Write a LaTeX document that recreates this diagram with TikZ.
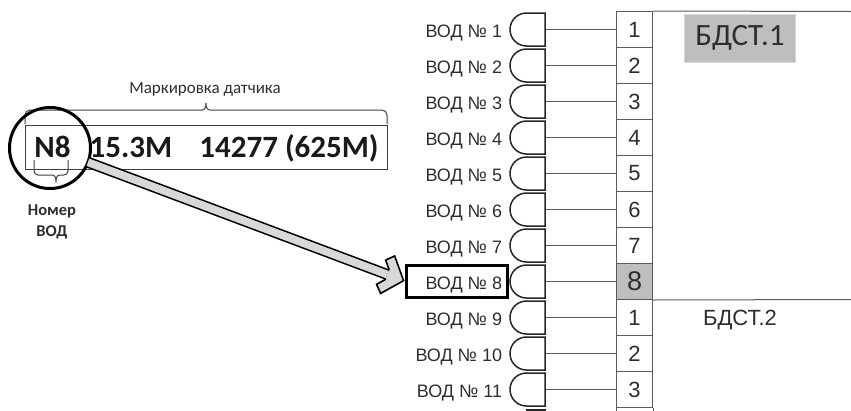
\documentclass[tikz,border=0pt]{standalone}
\usepackage{fontspec}
\setmainfont{Liberation Sans}
\newfontfamily\calfont{Carlito}
\usepackage{xcolor}
\usetikzlibrary{arrows.meta,positioning,shapes.misc}
\newcommand{\fs}[1]{\fontsize{#1}{#1}\selectfont}
\definecolor{cellgray}{HTML}{BEBEBE}
\definecolor{wiregray}{HTML}{5A5A5A}
\definecolor{txt}{HTML}{2E2E2E}
\definecolor{shaftgray}{HTML}{D8D8D8}
% open chevron head of the pointer
\pgfdeclarearrow{name=Chev,
  setup code={\pgfarrowssettipend{0pt}\pgfarrowssetlineend{-18.4pt}\pgfarrowssetbackend{-26pt}\pgfarrowssetvisualbackend{-18pt}\pgfarrowshullpoint{0pt}{0pt}},
  drawing code={\pgfsetlinewidth{1.6pt}\pgfsetmiterjoin\pgfsetfillcolor{shaftgray}
    \pgfpathmoveto{\pgfqpoint{-18pt}{4.7pt}}\pgfpathlineto{\pgfqpoint{-25pt}{13pt}}
    \pgfpathlineto{\pgfqpoint{-18pt}{20pt}}\pgfpathlineto{\pgfqpoint{-1pt}{0pt}}
    \pgfpathlineto{\pgfqpoint{-18pt}{-20pt}}\pgfpathlineto{\pgfqpoint{-25pt}{-13pt}}
    \pgfpathlineto{\pgfqpoint{-18pt}{-4.7pt}}\pgfusepathqfillstroke}}
\begin{document}
\begin{tikzpicture}[x=1pt,y=-1pt,
  cell/.style={draw=wiregray,line width=1pt,minimum width=36pt,minimum height=36pt,inner sep=0pt,text=txt,font=\fs{22}},
  cellsel/.style={cell,fill=cellgray,font=\fs{27}},
  plug/.style={draw=black!85,line width=1.5pt,rounded rectangle,rounded rectangle right arc=none,minimum width=35pt,minimum height=33pt,inner sep=0pt},
  vod/.style={inner sep=0pt,text=txt,font=\fs{18},left=7pt of #1,yshift=-3.5pt},
  wire/.style={draw=wiregray,line width=.9pt},
  tagtxt/.style={inner sep=0pt,anchor=base,font=\calfont\bfseries\fs{31},text=black!90},
  ptr/.style={black,line width=1.6pt,double=shaftgray,double distance=7.8pt,shorten <=-1.5pt,-{Chev}}]
\useasboundingbox (0,0) rectangle (851,410);
% --- blocks on the right ---
\node[fill=cellgray,draw=cellgray!60,minimum width=111pt,minimum height=48pt,inner sep=0pt,text=txt,font=\calfont\fs{31}] (bd1) at (740,38) {\raisebox{-2pt}{БДСТ.1}\hspace{13pt}};
\node[inner sep=0pt,text=txt,font=\fs{22}] (bd2) at (740,320) {БДСТ.2};
\coordinate (e1) at (851,11.5);
\coordinate (e2) at (851,299.5);
% --- sockets, wires, plugs and labels ---
\foreach \i/\n/\sty in {1/1/cell,2/2/cell,3/3/cell,4/4/cell,5/5/cell,6/6/cell,7/7/cell,8/8/cellsel,9/1/cell,10/2/cell,11/3/cell}{
  \node[\sty] (c\i) at (634.5,{29.5+36*(\i-1)}) {\n};
  \node[plug] (p\i) at (527.5,{29.5+36*(\i-1)}) {};
  \node[vod=p\i] (v\i) {ВОД № \i};
  \draw[wire] (p\i.east) -- (c\i.west);
}
\draw[wiregray,line width=1pt] (c1.north east) -- (e1);
\draw[wiregray,line width=1pt] (c8.south east) -- (e2);
\draw[wiregray,line width=1pt] (c11.south west) -- ++(0,3);
\draw[wiregray,line width=1pt] (c11.south east) -- ++(0,3);
\draw[black!85,line width=1.5pt] (p11.south east) ++(0,3) -- ++(-20,0);
\node[draw=black,line width=3pt,minimum width=101pt,minimum height=32pt,inner sep=0pt] (fr) at (456.5,281) {};
% --- sensor marking on the left ---
\node[draw=black!75,line width=1pt,minimum width=362pt,minimum height=44pt,inner sep=0pt] (tag) at (206,147) {};
\node[tagtxt] (n8) at (52.5,157) {N8};
\node[tagtxt] (len) at (131,157) {15.3M};
\node[tagtxt] (ser) at (289,157) {14277 (625M)};
\node[inner sep=0pt,text=txt,font=\calfont\fs{17}] (mk) at (205,89) {Маркировка датчика};
\node[inner sep=0pt,align=center,text=txt,font=\calfont\bfseries\fs{16.5}] (num) at (52,222) {Номер\\[4pt]ВОД};
\draw[black!75,line width=1pt] (25,124) -- (25,115) arc (180:90:5pt) -- (202,110) .. controls (205,110) and (206,107) .. (206,103) .. controls (206,107) and (207,110) .. (210,110) -- (382,110) arc (90:0:5pt) -- (387,124);
\draw[black!75,line width=1pt] (34,160) -- (34,171) arc (180:270:4pt) -- (52,175) .. controls (55,175) and (56,178) .. (56,182) .. controls (56,178) and (57,175) .. (60,175) -- (64,175) arc (270:360:4pt) -- (68,160);
% --- pointer from the lens to the label ---
\node[circle,draw=black,line width=3pt,minimum size=81pt,inner sep=0pt] (lens) at (50,148) {};
\draw[ptr] (lens) -- (fr.west);
\end{tikzpicture}
\end{document}
